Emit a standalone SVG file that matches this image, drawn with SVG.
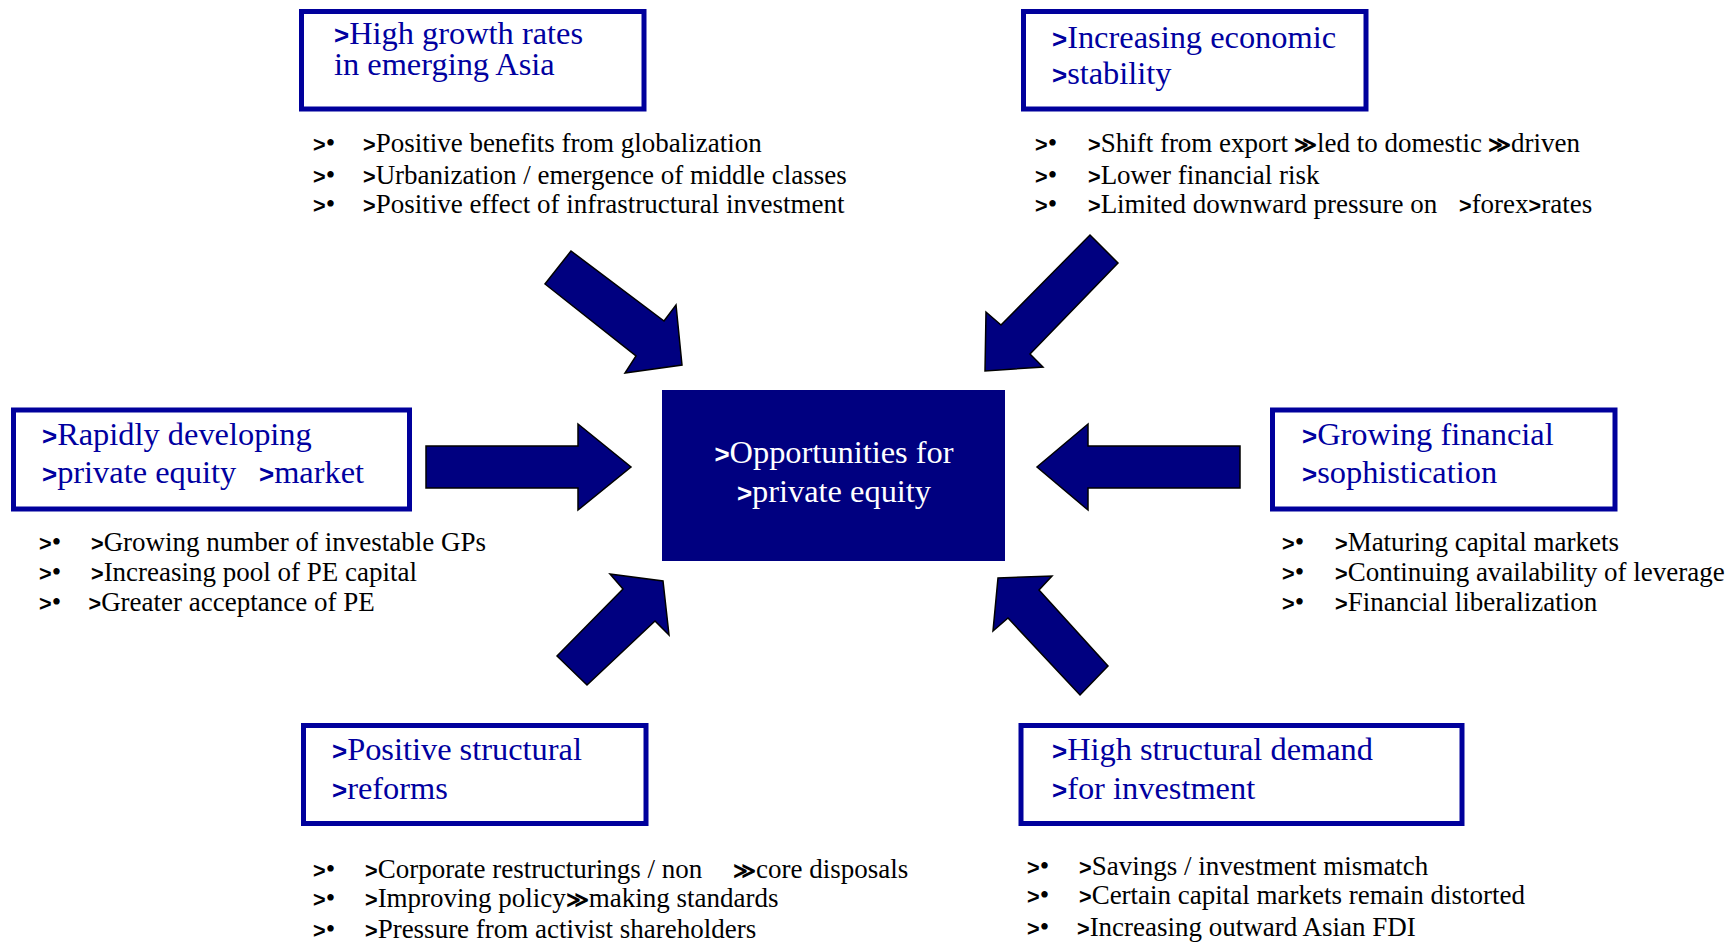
<svg xmlns="http://www.w3.org/2000/svg" width="1736" height="943" viewBox="0 0 1736 943">
  <style>
    .box { fill: #ffffff; stroke: #00009c; stroke-width: 5; }
    .head { font-family: "Liberation Serif", "Times New Roman", serif; font-size: 32.4px; fill: #0000a0; }
    .item { font-family: "Liberation Serif", "Times New Roman", serif; font-size: 27px; fill: #000000; }
    .mk { font-family: "Liberation Sans", Arial, sans-serif; font-weight: bold; font-size: 0.8em; }
    .core { fill: #000080; }
    .coretext { font-family: "Liberation Serif", "Times New Roman", serif; font-size: 32.4px; fill: #ffffff; text-anchor: middle; }
    .arrow { fill: #000080; stroke: #000000; stroke-width: 1.5; stroke-linejoin: miter; }
  </style>

  <rect width="1736" height="943" fill="#ffffff"/>

  <!-- centre node -->
  <g id="opportunities">
    <rect class="core" x="662" y="390" width="343" height="171"/>
    <text class="coretext" x="834" y="463"><tspan class="mk">&gt;</tspan>Opportunities for</text>
    <text class="coretext" x="834" y="502"><tspan class="mk">&gt;</tspan>private equity</text>
  </g>

  <!-- block arrows pointing at the centre -->
  <g id="connectors">
    <polygon class="arrow" points="571,251 545,284 636,356 625,373 682,365 676,305 664,321"/>
    <polygon class="arrow" points="1090,235 1118,263 1030,354 1043,367 985,371 986,312 1001,325"/>
    <polygon class="arrow" points="426,446 578,446 578,424 631,467 578,510 578,488 426,488"/>
    <polygon class="arrow" points="1240,446 1088,446 1088,424 1037,467 1088,510 1088,488 1240,488"/>
    <polygon class="arrow" points="557,656 587,685 655,621 669,635 663,581 610,574 623,589"/>
    <polygon class="arrow" points="1080,695 1108,666 1039,590 1052,576 998,578 993,631 1008,618"/>
  </g>

  <!-- top left driver -->
  <g id="growth">
    <rect class="box" x="301.5" y="11.5" width="342.5" height="97.5"/>
    <text class="head" x="334" y="44"><tspan class="mk">&gt;</tspan>High growth rates</text>
    <text class="head" x="334" y="75">in emerging Asia</text>
    <text class="item" x="313" y="152"><tspan class="mk">&gt;</tspan>•</text>
    <text class="item" x="363" y="152"><tspan class="mk">&gt;</tspan>Positive benefits from globalization</text>
    <text class="item" x="313" y="184"><tspan class="mk">&gt;</tspan>•</text>
    <text class="item" x="363" y="184"><tspan class="mk">&gt;</tspan>Urbanization / emergence of middle classes</text>
    <text class="item" x="313" y="213"><tspan class="mk">&gt;</tspan>•</text>
    <text class="item" x="363" y="213"><tspan class="mk">&gt;</tspan>Positive effect of infrastructural investment</text>
  </g>

  <!-- top right driver -->
  <g id="stability">
    <rect class="box" x="1023.5" y="11.5" width="342.5" height="97.5"/>
    <text class="head" x="1052" y="48"><tspan class="mk">&gt;</tspan>Increasing economic</text>
    <text class="head" x="1052" y="84"><tspan class="mk">&gt;</tspan>stability</text>
    <text class="item" x="1035" y="152"><tspan class="mk">&gt;</tspan>•</text>
    <text class="item" x="1088" y="152"><tspan class="mk">&gt;</tspan>Shift from export<tspan class="mk" dx="6">≫</tspan>led to domestic<tspan class="mk" dx="6">≫</tspan>driven</text>
    <text class="item" x="1035" y="184"><tspan class="mk">&gt;</tspan>•</text>
    <text class="item" x="1088" y="184"><tspan class="mk">&gt;</tspan>Lower financial risk</text>
    <text class="item" x="1035" y="213"><tspan class="mk">&gt;</tspan>•</text>
    <text class="item" x="1088" y="213"><tspan class="mk">&gt;</tspan>Limited downward pressure on</text>
    <text class="item" x="1459" y="213"><tspan class="mk">&gt;</tspan>forex<tspan class="mk">&gt;</tspan>rates</text>
  </g>

  <!-- middle left driver -->
  <g id="pe-market">
    <rect class="box" x="13.5" y="410" width="396" height="99"/>
    <text class="head" x="42" y="445"><tspan class="mk">&gt;</tspan>Rapidly developing</text>
    <text class="head" x="42" y="483"><tspan class="mk">&gt;</tspan>private equity</text>
    <text class="head" x="259" y="483"><tspan class="mk">&gt;</tspan>market</text>
    <text class="item" x="39" y="551"><tspan class="mk">&gt;</tspan>•</text>
    <text class="item" x="91" y="551"><tspan class="mk">&gt;</tspan>Growing number of investable GPs</text>
    <text class="item" x="39" y="581"><tspan class="mk">&gt;</tspan>•</text>
    <text class="item" x="91" y="581"><tspan class="mk">&gt;</tspan>Increasing pool of PE capital</text>
    <text class="item" x="39" y="611"><tspan class="mk">&gt;</tspan>•</text>
    <text class="item" x="88.5" y="611"><tspan class="mk">&gt;</tspan>Greater acceptance of PE</text>
  </g>

  <!-- middle right driver -->
  <g id="sophistication">
    <rect class="box" x="1272.5" y="410" width="342.5" height="99"/>
    <text class="head" x="1302" y="445"><tspan class="mk">&gt;</tspan>Growing financial</text>
    <text class="head" x="1302" y="483"><tspan class="mk">&gt;</tspan>sophistication</text>
    <text class="item" x="1282" y="551"><tspan class="mk">&gt;</tspan>•</text>
    <text class="item" x="1335" y="551"><tspan class="mk">&gt;</tspan>Maturing capital markets</text>
    <text class="item" x="1282" y="581"><tspan class="mk">&gt;</tspan>•</text>
    <text class="item" x="1335" y="581"><tspan class="mk">&gt;</tspan>Continuing availability of leverage</text>
    <text class="item" x="1282" y="611"><tspan class="mk">&gt;</tspan>•</text>
    <text class="item" x="1335" y="611"><tspan class="mk">&gt;</tspan>Financial liberalization</text>
  </g>

  <!-- bottom left driver -->
  <g id="reforms">
    <rect class="box" x="303.5" y="725.5" width="342.5" height="98"/>
    <text class="head" x="332" y="760"><tspan class="mk">&gt;</tspan>Positive structural</text>
    <text class="head" x="332" y="799"><tspan class="mk">&gt;</tspan>reforms</text>
    <text class="item" x="313" y="878"><tspan class="mk">&gt;</tspan>•</text>
    <text class="item" x="365" y="878"><tspan class="mk">&gt;</tspan>Corporate restructurings / non</text>
    <text class="item" x="733" y="878"><tspan class="mk">≫</tspan>core disposals</text>
    <text class="item" x="313" y="907"><tspan class="mk">&gt;</tspan>•</text>
    <text class="item" x="365" y="907"><tspan class="mk">&gt;</tspan>Improving policy<tspan class="mk">≫</tspan>making standards</text>
    <text class="item" x="313" y="938"><tspan class="mk">&gt;</tspan>•</text>
    <text class="item" x="365" y="938"><tspan class="mk">&gt;</tspan>Pressure from activist shareholders</text>
  </g>

  <!-- bottom right driver -->
  <g id="investment-demand">
    <rect class="box" x="1021" y="725.5" width="441" height="98"/>
    <text class="head" x="1052" y="760"><tspan class="mk">&gt;</tspan>High structural demand</text>
    <text class="head" x="1052" y="799"><tspan class="mk">&gt;</tspan>for investment</text>
    <text class="item" x="1027" y="875"><tspan class="mk">&gt;</tspan>•</text>
    <text class="item" x="1079" y="875"><tspan class="mk">&gt;</tspan>Savings / investment mismatch</text>
    <text class="item" x="1027" y="904"><tspan class="mk">&gt;</tspan>•</text>
    <text class="item" x="1079" y="904"><tspan class="mk">&gt;</tspan>Certain capital markets remain distorted</text>
    <text class="item" x="1027" y="936"><tspan class="mk">&gt;</tspan>•</text>
    <text class="item" x="1077" y="936"><tspan class="mk">&gt;</tspan>Increasing outward Asian FDI</text>
  </g>
</svg>
